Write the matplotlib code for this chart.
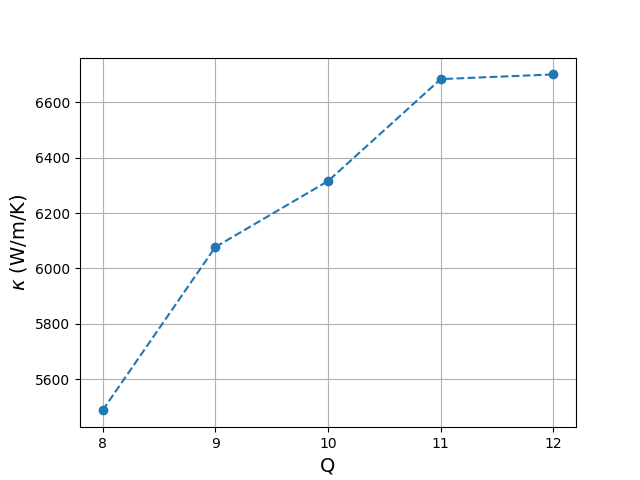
import matplotlib
matplotlib.use('Agg')
import matplotlib.pyplot as plt

# data
Q = [8, 9, 10, 11, 12]
kappa = [5488, 6077, 6315, 6683, 6700]

fig = plt.figure(figsize=(6.4, 4.8), dpi=100)
plt.plot(Q, kappa, 'o--')
plt.xlabel('Q', fontsize=14)
plt.ylabel(r'$\kappa$ (W/m/K)', fontsize=14)
plt.xticks(Q)
plt.grid(True)
plt.savefig('out.png')
